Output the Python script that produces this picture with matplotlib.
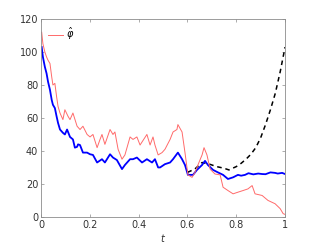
import numpy as np
import matplotlib
matplotlib.use("Agg")
from matplotlib import pyplot as plt

# red estimate (phi hat)
t_red = [0.003, 0.008, 0.016, 0.023, 0.029, 0.037, 0.044, 0.049, 0.057, 0.064,
         0.070, 0.078, 0.090, 0.098, 0.111, 0.119, 0.131, 0.148, 0.160, 0.172,
         0.189, 0.201, 0.213, 0.230, 0.242, 0.250, 0.262, 0.283, 0.295, 0.303,
         0.316, 0.332, 0.344, 0.365, 0.377, 0.393, 0.406, 0.434, 0.447, 0.459,
         0.467, 0.480, 0.496, 0.508, 0.529, 0.541, 0.557, 0.561, 0.578, 0.590,
         0.602, 0.619, 0.631, 0.643, 0.660, 0.668, 0.680, 0.693, 0.713, 0.734,
         0.746, 0.766, 0.787, 0.807, 0.828, 0.848, 0.865, 0.877, 0.906, 0.930,
         0.959, 0.980, 0.992, 1.0]
red = [112, 105, 100, 97, 95, 93, 85, 80, 81, 73,
       67, 63, 59, 65, 61, 59, 63, 55, 53, 55,
       50, 48.5, 50, 42, 47, 50, 44, 53, 50, 51.5,
       41, 35, 37.6, 48.5, 47, 48.5, 43.6, 50, 43.6, 48.5,
       43.6, 37.6, 39, 41, 47, 51.5, 53, 56, 51.5, 39,
       25.5, 24, 27, 31.5, 37.6, 42, 37.6, 29, 26, 25.5,
       18, 16, 14, 15, 16, 17, 19, 14, 13, 10,
       8, 5, 2, 1.5]

# blue curve
t_blue = [0.003, 0.008, 0.016, 0.023, 0.029, 0.037, 0.044, 0.049, 0.057, 0.064,
          0.070, 0.078, 0.090, 0.098, 0.107, 0.119, 0.131, 0.139, 0.148, 0.152,
          0.160, 0.172, 0.189, 0.201, 0.213, 0.230, 0.250, 0.262, 0.283, 0.295,
          0.311, 0.332, 0.344, 0.365, 0.377, 0.393, 0.414, 0.434, 0.455, 0.467,
          0.480, 0.488, 0.508, 0.529, 0.541, 0.561, 0.578, 0.590, 0.602, 0.623,
          0.639, 0.660, 0.672, 0.684, 0.705, 0.725, 0.746, 0.766, 0.787, 0.807,
          0.820, 0.836, 0.850, 0.870, 0.890, 0.906, 0.920, 0.940, 0.959, 0.970,
          0.988, 1.0]
blue = [103, 97, 91, 87, 82, 77, 71, 68, 66, 61,
        57, 53, 51, 50, 53, 48.5, 47, 42, 42.5, 44,
        43.6, 39, 39, 38, 37.6, 33, 35, 33, 38, 36,
        34.5, 29, 31.5, 35, 35, 36, 33, 35, 33, 35,
        30, 30, 32, 33, 35, 39, 35, 31.5, 25.5, 25.5,
        28.5, 31.5, 34, 31.5, 28.5, 27, 25.5, 23, 24, 25.5,
        25, 25.5, 26.5, 25.8, 26.3, 26, 25.9, 27, 26.7, 26.3,
        26.7, 26]

# black dashed curve
t_black = [0.60, 0.63, 0.66, 0.69, 0.72, 0.75, 0.77, 0.80, 0.82, 0.84,
           0.86, 0.88, 0.90, 0.92, 0.94, 0.96, 0.98, 1.0]
black = [27, 29, 33, 32, 30.5, 29.5, 28.5, 30.5, 32.5, 35,
         38, 42, 48, 56, 65, 75, 88, 103]

x_ticks = [0, 0.2, 0.4, 0.6, 0.8, 1]
x_labels = ["0", "0.2", "0.4", "0.6", "0.8", "1"]
y_ticks = [0, 20, 40, 60, 80, 100, 120]

fig = plt.figure(figsize=(3.15, 2.44), dpi=100)
ax = fig.add_axes([0.13, 0.111, 0.775, 0.811])

ax.plot(t_black, black, color="black", lw=1.1, ls=(0, (3, 2.5)))
ax.plot(t_blue, blue, color="#0000ff", lw=1.3)
ax.plot(t_red, red, color="#ff6a6a", lw=0.7, label=r"$\hat{\varphi}$")

ax.set_xlim(0, 1)
ax.set_ylim(0, 120)
ax.set_xticks(x_ticks)
ax.set_xticklabels(x_labels)
ax.set_yticks(y_ticks)
ax.tick_params(direction="in", length=2.5, width=0.5, labelsize=7,
               colors="#8c8c8c", labelcolor="#333333", top=True, right=True, pad=2)
for s in ax.spines.values():
    s.set_linewidth(0.6)
    s.set_color("#8c8c8c")
ax.set_xlabel("$t$", fontsize=7, color="#333333", labelpad=2)

ax.legend(loc="upper left", frameon=False, fontsize=7, handlelength=1.6,
          handletextpad=0.3, borderaxespad=0.3)

fig.savefig("out.png", dpi=100)
